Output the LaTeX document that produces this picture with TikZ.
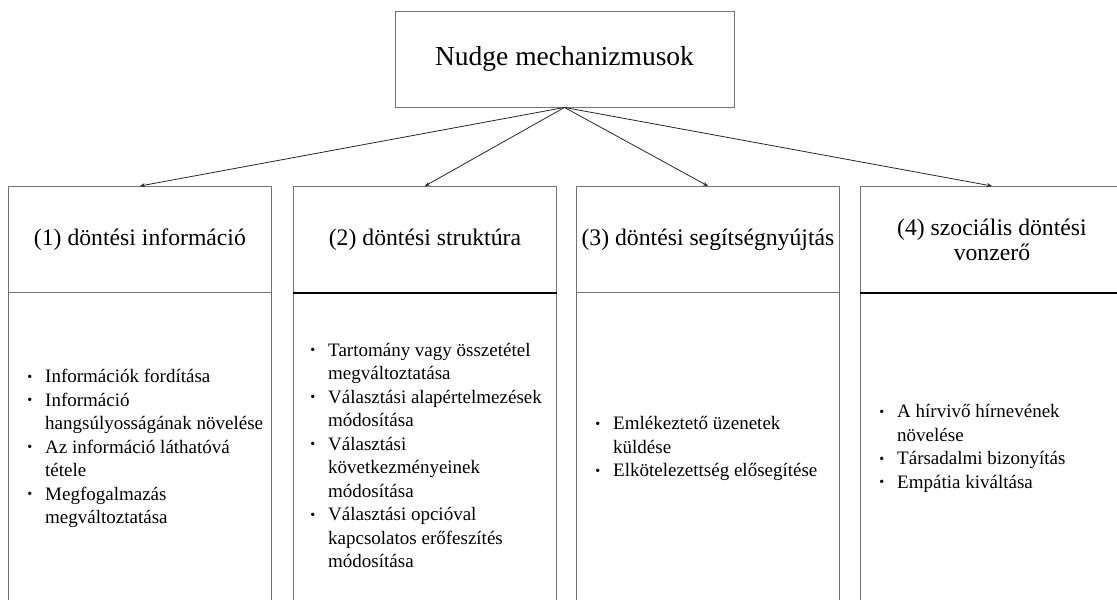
\documentclass[tikz,border=0pt]{standalone}
\usepackage{fontspec}
\setmainfont{Liberation Serif}
\usetikzlibrary{arrows.meta}
% bullet that hangs to the left of an item's first line
\newcommand\itm{\leavevmode\llap{\raisebox{1.4pt}{\fontsize{14}{14}\selectfont\textbullet}\hspace{13pt}}}
\begin{document}
\begin{tikzpicture}[x=1pt,y=-1pt,
  box/.style={draw=black!55, line width=0.9pt, inner sep=0pt},
  titlebox/.style={box, minimum width=339pt, minimum height=96pt,
    font=\fontsize{27.5}{30}\selectfont},
  headbox/.style={box, minimum width=263pt, minimum height=106pt,
    anchor=north west, align=center, font=\fontsize{23.7}{25}\selectfont},
  bodybox/.style={box, minimum width=263pt, minimum height=312pt, anchor=north west},
  items/.style={anchor=west, inner sep=0pt, align=left,
    font=\fontsize{19}{23.5}\selectfont},
  link/.style={draw=black!85, line width=0.8pt, -{Stealth[length=5pt,width=4pt]}},
  heavyrule/.style={line width=2pt, black}
]
\useasboundingbox (0,0) rectangle (1117,600);

% root
\node[titlebox] (top) at (564.5,59) {Nudge mechanizmusok};

% category headers
\node[headbox] (h1) at (8,186)   {(1) döntési információ};
\node[headbox] (h2) at (293,186) {(2) döntési struktúra};
\node[headbox] (h3) at (576,186) {(3) döntési segítségnyújtás};
\node[headbox] (h4) at (860,186) {(4) szociális döntési\\vonzerő};

% category bodies
\node[bodybox] (b1) at (8,292)   {};
\node[bodybox] (b2) at (293,292) {};
\node[bodybox] (b3) at (576,292) {};
\node[bodybox] (b4) at (860,292) {};

\draw[heavyrule] (h2.south west) -- (h2.south east);
\draw[heavyrule] (h4.south west) -- (h4.south east);

% item lists
\node[items] (t1) at ([xshift=37pt]b1.west) {%
\itm Információk fordítása\\
\itm Információ\\
hangsúlyosságának növelése\\
\itm Az információ láthatóvá\\
tétele\\
\itm Megfogalmazás\\
megváltoztatása};

\node[items] (t2) at ([xshift=35pt,yshift=-7pt]b2.west) {%
\itm Tartomány vagy összetétel\\
megváltoztatása\\
\itm Választási alapértelmezések\\
módosítása\\
\itm Választási\\
következményeinek\\
módosítása\\
\itm Választási opcióval\\
kapcsolatos erőfeszítés\\
módosítása};

\node[items] (t3) at ([xshift=37pt]b3.west) {%
\itm Emlékeztető üzenetek\\
küldése\\
\itm Elkötelezettség elősegítése};

\node[items] (t4) at ([xshift=37pt]b4.west) {%
\itm A hírvivő hírnevének\\
növelése\\
\itm Társadalmi bizonyítás\\
\itm Empátia kiváltása};

% connectors
\draw[link] (top.south) -- (h1.north);
\draw[link] (top.south) -- (h2.north);
\draw[link] (top.south) -- (h3.north);
\draw[link] (top.south) -- (h4.north);
\end{tikzpicture}
\end{document}
